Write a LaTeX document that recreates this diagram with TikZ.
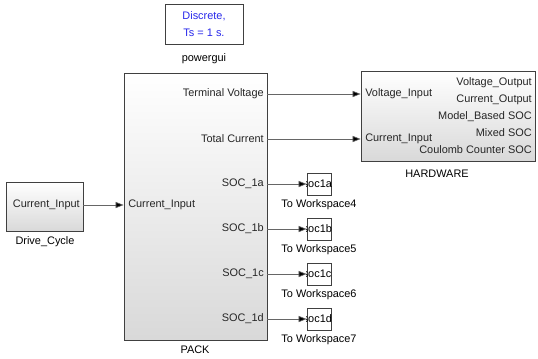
\documentclass[tikz,border=0pt]{standalone}
\usepackage{fontspec}
\setmainfont{Liberation Sans}
\usetikzlibrary{arrows.meta,fit,shadows}
\definecolor{pgblue}{RGB}{40,40,235}
\begin{document}
\begin{tikzpicture}[x=0.75pt,y=-0.75pt,
  every node/.style={font=\fontsize{8.2}{10}\selectfont, inner sep=0pt},
  blk/.style={draw=black!75, line width=0.6pt, inner sep=0pt},
  shadeblk/.style={blk, top color=white, bottom color=black!15,
    drop shadow={shadow xshift=1.1pt, shadow yshift=-1.1pt, fill=black!60, opacity=1}},
  plainblk/.style={blk, fill=white},
  wire/.style={draw=black!60, line width=0.5pt, -{Triangle[length=6pt,width=4.6pt,fill=black]}},
  lwire/.style={draw=black!60, line width=0.5pt},
  port/.style={text=black!85},
  lbl/.style={text=black}]
\useasboundingbox (0,0) rectangle (538,358);

% powergui
\node[plainblk, fit={(165,4)(243,44)}] (pg) {};
\node[text=pgblue, align=center, font=\fontsize{8.2}{13}\selectfont] (pgtxt) at (pg.center) {Discrete,\\Ts = 1 s.};
\node[lbl] (pglbl) at (204,59) {powergui};

% PACK
\node[shadeblk, fit={(124,73)(267,340)}] (pack) {};
\node[lbl] (packlbl) at (195,350) {PACK};
\node[port, anchor=east] (ptv) at (264,94) {Terminal Voltage};
\node[port, anchor=east] (ptc) at (264,139) {Total Current};
\node[port, anchor=east] (pa) at (264,184) {SOC\_1a};
\node[port, anchor=east] (pb) at (264,229) {SOC\_1b};
\node[port, anchor=east] (pc) at (264,274) {SOC\_1c};
\node[port, anchor=east] (pd) at (264,319) {SOC\_1d};
\node[port, anchor=west] (pin) at (128,205) {Current\_Input};

% Drive cycle
\node[shadeblk, fit={(6,182)(83,231)}] (dc) {};
\node[port, anchor=east] (dcout) at (80,205) {Current\_Input};
\node[lbl] (dclbl) at (45,242) {Drive\_Cycle};

% HARDWARE
\node[shadeblk, fit={(361,71)(535,161)}] (hw) {};
\node[lbl] (hwlbl) at (437,174) {HARDWARE};
\node[port, anchor=west] (hvi) at (365,94) {Voltage\_Input};
\node[port, anchor=west] (hci) at (365,139) {Current\_Input};
\node[port, anchor=east] (hvo) at (532,83) {Voltage\_Output};
\node[port, anchor=east] (hco) at (532,100) {Current\_Output};
\node[port, anchor=east] (hmb) at (532,117) {Model\_Based SOC};
\node[port, anchor=east] (hmx) at (532,133) {Mixed SOC};
\node[port, anchor=east] (hcc) at (532,150) {Coulomb Counter SOC};

% To Workspace blocks
\foreach \n/\y/\t/\s in {4/184/soc1a/a,5/229/soc1b/b,6/274/soc1c/c,7/319/soc1d/d}{
  \node[plainblk, fit={(307,\y-11)(331,\y+11)}] (ws\n) {};
  \begin{scope}
    \clip (ws\n.south west) rectangle (ws\n.north east);
    \node[anchor=west] (wst\n) at (302.5,\y) {\t};
  \end{scope}
  \node[lbl] (wsl\n) at (319,\y+21) {To Workspace\n};
}

% connectors
\draw[wire] (dc.east |- pin) -- (pack.west |- pin);
\draw[wire] (pack.east |- ptv) -- (hw.west |- ptv);
\draw[wire] (pack.east |- ptc) -- (hw.west |- ptc);
\draw[wire] (pack.east |- pa) -- (ws4.west |- pa);
\draw[wire] (pack.east |- pb) -- (ws5.west |- pb);
\draw[wire] (pack.east |- pc) -- (ws6.west |- pc);
\draw[wire] (pack.east |- pd) -- (ws7.west |- pd);
\end{tikzpicture}
\end{document}
